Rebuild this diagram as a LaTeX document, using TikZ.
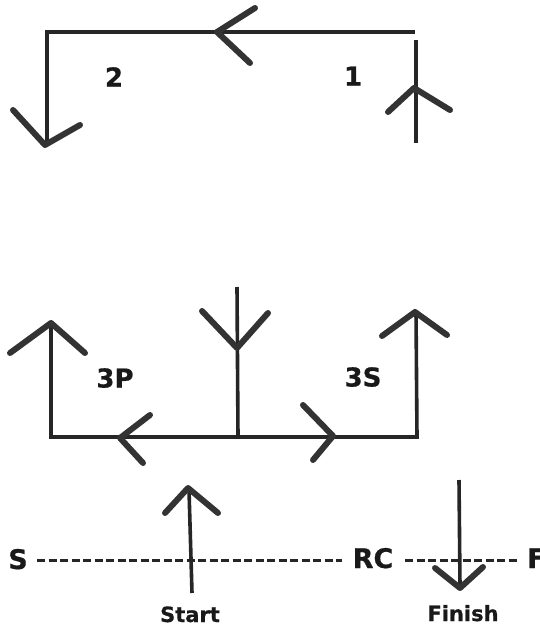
\documentclass[tikz,border=0pt]{standalone}
\usepackage{fontspec}
\setmainfont{DejaVu Sans}[BoldFeatures={FakeBold=0.6}]
\begin{document}
\begin{tikzpicture}[x=1pt,y=-1pt,
  ln/.style={line width=3.6pt,color=black!85},
  hd/.style={line width=6pt,color=black!80,line cap=round,line join=round},
  lbl/.style={font=\bfseries\fontsize{26}{30}\selectfont,inner sep=0pt,anchor=base,text=black!90},
  big/.style={font=\bfseries\fontsize{27}{30}\selectfont,inner sep=0pt,anchor=base,text=black!90},
  sm/.style={font=\bfseries\fontsize{21}{24}\selectfont,inner sep=0pt,anchor=base,text=black!90},
  dashln/.style={line width=3pt,color=black!85,dash pattern=on 8pt off 3.5pt}]
\clip (0,0) rectangle (540,626);
\fill[white] (0,0) rectangle (540,626);
% top section
\draw[ln] (415,32) -- (47,32) -- (47,143);
\draw[hd] (13,110) -- (45,145) -- (80,125);
\draw[hd] (255,8) -- (217,32) -- (250,63);
\draw[ln] (416,40) -- (416,143);
\draw[hd] (388,112) -- (414,88) -- (450,110);
\node[lbl] (n2) at (114,86.5) {2};
\node[lbl] (n1) at (353,85.5) {1};
% middle section
\draw[ln] (51,323) -- (51,437) -- (417,437) -- (416,312);
\draw[hd] (10,353) -- (51,323) -- (85,353);
\draw[hd] (382,336) -- (415,312) -- (447,335);
\draw[ln] (237,287) -- (238,437);
\draw[hd] (202,311) -- (237,348) -- (268,313);
\draw[hd] (150,415) -- (120,438) -- (143,463);
\draw[hd] (303,405) -- (333,436) -- (313,460);
\node[lbl] (p3) at (115,387.5) {3P};
\node[lbl] (s3) at (363,386.5) {3S};
% bottom section
\node[big] (S) at (18,569) {S};
\node[big] (RC) at (373,568) {RC};
\node[big,anchor=base west] (F) at (527,568) {F};
\draw[dashln] (37,560) -- (342,560);
\draw[dashln] (405,560) -- (517,560);
\draw[ln] (192,593) -- (189,490);
\draw[hd] (165,513) -- (188,488) -- (218,513);
\draw[ln] (459,480) -- (460,586);
\draw[hd] (435,568) -- (460,588) -- (483,567);
\node[sm] (st) at (190,622) {Start};
\node[sm] (fi) at (463,621) {Finish};
\end{tikzpicture}
\end{document}
